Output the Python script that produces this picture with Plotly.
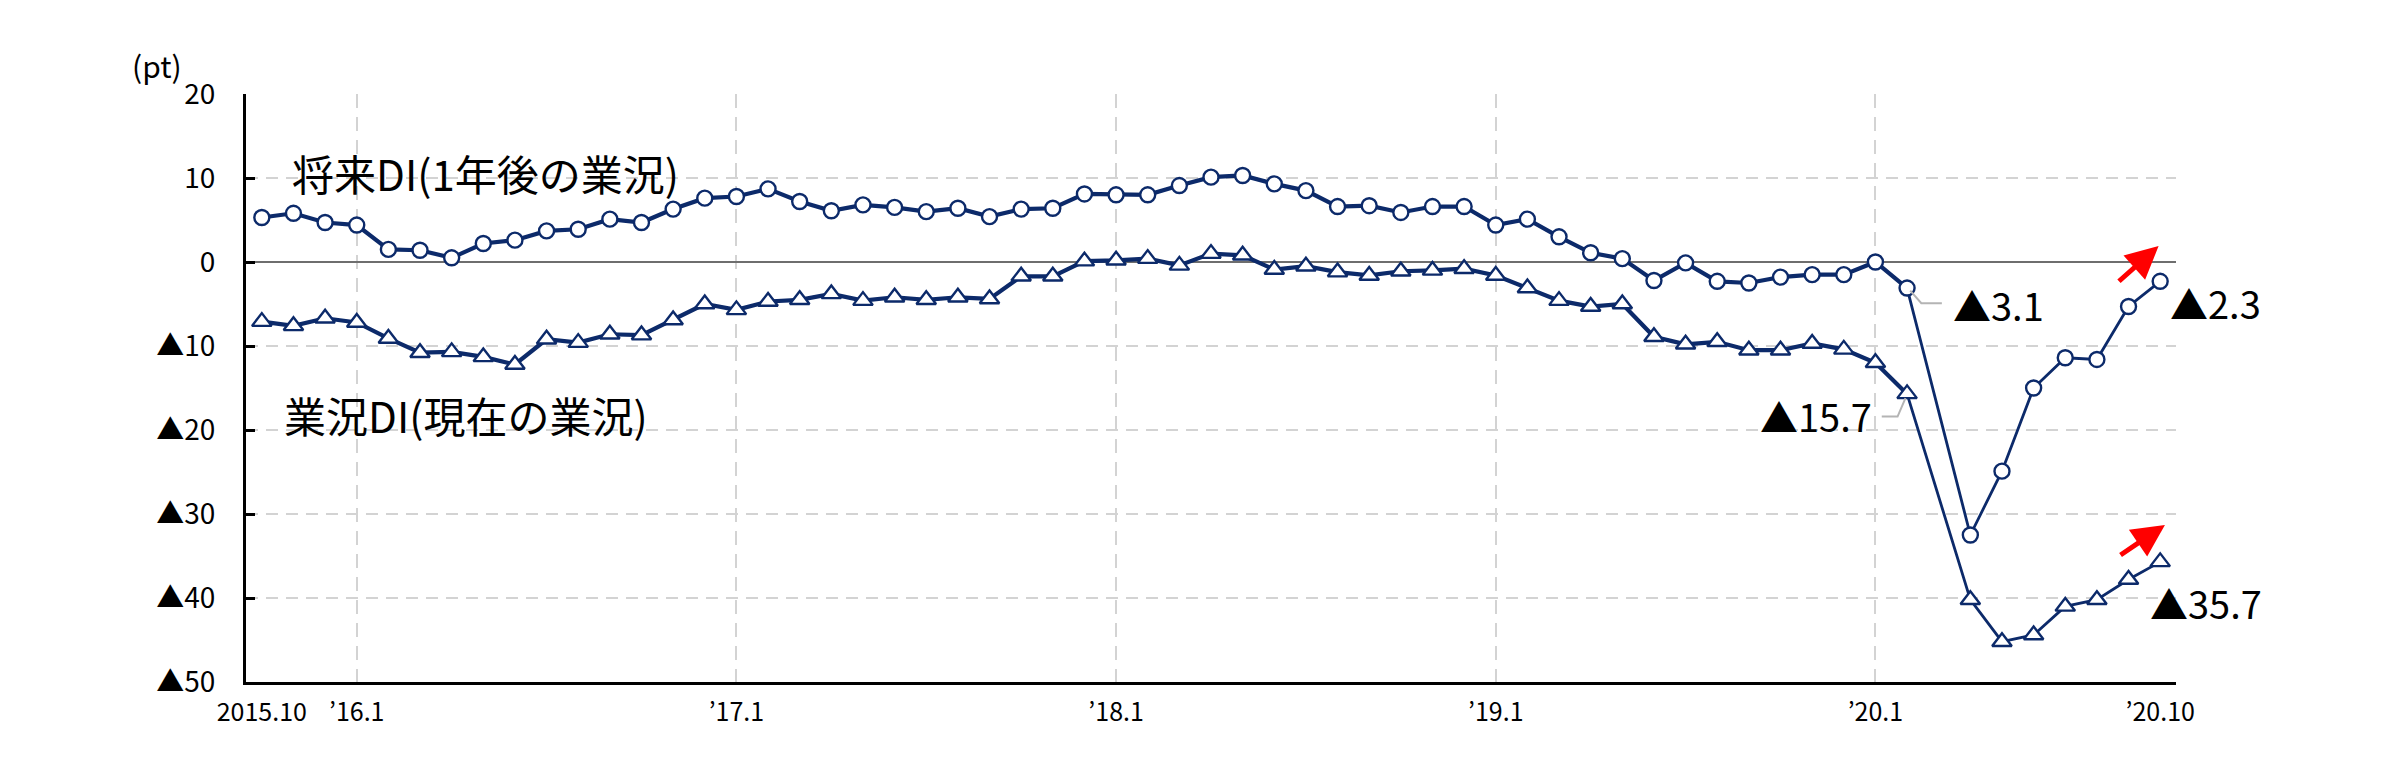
import plotly.graph_objects as go

# ---------------- data ----------------
start_year, start_month, n_months = 2015, 10, 61
months = []
yy, mm = start_year, start_month
for _ in range(n_months):
    months.append(f"{yy}.{mm}")
    mm += 1
    if mm > 12:
        mm, yy = 1, yy + 1
xi = list(range(n_months))

future_di = [5.3, 5.8, 4.7, 4.4, 1.5, 1.4, 0.5, 2.2, 2.6, 3.7,
             3.9, 5.1, 4.7, 6.3, 7.6, 7.8, 8.7, 7.2, 6.1, 6.8,
             6.5, 6.0, 6.4, 5.4, 6.3, 6.4, 8.1, 8.0, 8.0, 9.1,
             10.1, 10.3, 9.3, 8.5, 6.6, 6.7, 5.9, 6.6, 6.6, 4.4,
             5.1, 3.0, 1.1, 0.4, -2.2, -0.1, -2.3, -2.5, -1.8, -1.5,
             -1.5, 0.0, -3.1, None, -32.5, -24.9, -15.0, -11.4, -11.6, -5.3, -2.3]

current_di = [-7.1, -7.6, -6.7, -7.2, -9.1, -10.8, -10.7, -11.3, -12.2, -9.2,
              -9.6, -8.6, -8.7, -6.9, -5.0, -5.7, -4.7, -4.5, -3.8, -4.6,
              -4.2, -4.5, -4.2, -4.4, -1.7, -1.7, 0.1, 0.2, 0.4, -0.4,
              1.0, 0.8, -0.9, -0.5, -1.2, -1.6, -1.1, -1.0, -0.8, -1.6,
              -3.1, -4.6, -5.3, -5.0, -8.9, -9.8, -9.5, -10.5, -10.5, -9.7,
              -10.4, -12.0, -15.7, None, -40.2, -45.2, -44.4, -41.0, -40.2, -37.8, -35.7]

x_tick_idx = [0, 3, 15, 27, 39, 51, 60]
x_tick_text = ["2015.10", "’16.1", "’17.1", "’18.1", "’19.1", "’20.1", "’20.10"]
x_grid_idx = [3, 15, 27, 39, 51]
y_tick_vals = [20, 10, 0, -10, -20, -30, -40, -50]
y_tick_text = ["20", "10", "0", "▲10", "▲20", "▲30", "▲40", "▲50"]

label_future = "将来DI(1年後の業況)"
label_current = "業況DI(現在の業況)"

# ---------------- style ----------------
NAVY = "#0c2a6a"
GRID = "#d3d3d3"
FONT = "Noto Sans CJK JP, Liberation Sans, sans-serif"
split = 52  # index from which lines are drawn thinner

def seg(vals, a, b):
    return [v if a <= i <= b else None for i, v in enumerate(vals)]

fig = go.Figure()
for vals in (future_di, current_di):
    fig.add_trace(go.Scatter(x=xi, y=seg(vals, 0, split), mode="lines",
                             line=dict(color=NAVY, width=4.2), hoverinfo="skip",
                             showlegend=False))
    fig.add_trace(go.Scatter(x=xi[split:], y=vals[split:], mode="lines", connectgaps=True,
                             line=dict(color=NAVY, width=2.8), hoverinfo="skip",
                             showlegend=False))

fig.add_trace(go.Scatter(x=xi, y=future_di, mode="markers", name=label_future,
                         marker=dict(symbol="circle", size=15, color="white",
                                     line=dict(color=NAVY, width=2.4)),
                         showlegend=False))
fig.add_trace(go.Scatter(x=xi, y=current_di, mode="markers", name=label_current,
                         marker=dict(symbol="triangle-up", size=17, color="white",
                                     line=dict(color=NAVY, width=2.4)),
                         showlegend=False))

def tri(v):
    return f"▲{abs(v):.1f}"

annos = []
# series labels
annos.append(dict(x=0.9, y=10.7, xref="x", yref="y", text=label_future, showarrow=False,
                  xanchor="left", yanchor="middle", font=dict(size=42, color="black", family=FONT)))
annos.append(dict(x=0.65, y=-18.2, xref="x", yref="y", text=label_current, showarrow=False,
                  xanchor="left", yanchor="middle", font=dict(size=42, color="black", family=FONT)))
# value labels
annos.append(dict(x=53.4, y=-5.1, xref="x", yref="y", text=tri(future_di[52]), showarrow=False,
                  xanchor="left", yanchor="middle", font=dict(size=38, color="black", family=FONT)))
annos.append(dict(x=50.95, y=-18.3, xref="x", yref="y", text=tri(current_di[52]), showarrow=False,
                  xanchor="right", yanchor="middle", font=dict(size=38, color="black", family=FONT)))
annos.append(dict(x=60.25, y=-4.8, xref="x", yref="y", text=tri(future_di[60]), showarrow=False,
                  xanchor="left", yanchor="middle", font=dict(size=38, color="black", family=FONT)))
annos.append(dict(x=59.6, y=-40.5, xref="x", yref="y", text=tri(current_di[60]), showarrow=False,
                  xanchor="left", yanchor="middle", font=dict(size=38, color="black", family=FONT)))
# unit
annos.append(dict(x=-0.046, y=1.0, xref="paper", yref="paper", text="(pt)", showarrow=False,
                  xanchor="center", yanchor="middle", yshift=29,
                  font=dict(size=30, color="black", family=FONT)))
# red arrows
for (x0, y0, x1, y1) in [(58.65, future_di[60] - 0.15, 59.95, future_di[60] + 4.2),
                         (58.7, current_di[60] + 0.7, 60.15, current_di[60] + 4.4)]:
    annos.append(dict(x=x1, y=y1, ax=x0, ay=y0, xref="x", yref="y", axref="x", ayref="y",
                      text="", showarrow=True, arrowhead=2, arrowsize=1.3, arrowwidth=5,
                      arrowcolor="#ff0000"))

# leader lines
fig.add_shape(type="path", xref="x", yref="y",
              path=f"M 52.1 {future_di[52]-0.3} L 52.45 {future_di[52]-1.8} L 53.1 {future_di[52]-1.8}",
              line=dict(color="#b4b4b4", width=2))
fig.add_shape(type="path", xref="x", yref="y",
              path=f"M 51.95 {current_di[52]-0.5} L 51.7 {current_di[52]-2.7} L 51.2 {current_di[52]-2.7}",
              line=dict(color="#b4b4b4", width=2))

fig.update_layout(
    width=2392, height=784,
    margin=dict(l=238, r=224, t=86, b=110),
    paper_bgcolor="white", plot_bgcolor="white",
    font=dict(family=FONT, color="black"),
    annotations=annos,
    showlegend=False,
)
fig.update_xaxes(range=[-0.5, 60.5], tickmode="array", tickvals=x_tick_idx, ticktext=x_tick_text,
                 showgrid=False,
                 minor=dict(tickmode="array", tickvals=x_grid_idx, showgrid=True, gridcolor=GRID,
                            gridwidth=2, griddash="14px,9px", ticks=""),
                 showline=True, linecolor="black", linewidth=3, ticks="", zeroline=False,
                 tickfont=dict(size=25, color="black", family=FONT), ticklabelstandoff=6)
fig.update_yaxes(range=[-50, 20], tickmode="array", tickvals=y_tick_vals, ticktext=y_tick_text,
                 showgrid=True, gridcolor=GRID, gridwidth=2, griddash="12px,8px",
                 showline=True, linecolor="black", linewidth=3,
                 zeroline=True, zerolinecolor="#6e6e6e", zerolinewidth=2,
                 ticks="inside", ticklen=9, tickwidth=3, tickcolor="black",
                 tickfont=dict(size=28, color="black", family=FONT), ticklabelstandoff=22)

fig.write_html("out.html")
